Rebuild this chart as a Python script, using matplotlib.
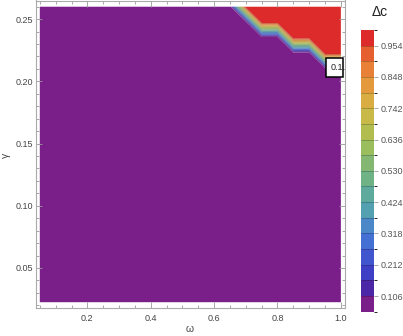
import numpy as np
import matplotlib
matplotlib.use("Agg")
import matplotlib.pyplot as plt
import matplotlib.tri as mtri
from matplotlib.colors import ListedColormap, BoundaryNorm
from matplotlib.cm import ScalarMappable
from matplotlib.patches import Rectangle

plt.rcParams['font.family'] = ['Liberation Sans', 'DejaVu Sans']

# grid of the computation
omega = np.round(np.arange(0.05, 1.0001, 0.05), 3)
gamma = np.round(np.arange(0.0225, 0.26001, 0.0125), 4)

# columns where delta c jumps to 1, and the gamma it starts at
onset_omega = [0.70, 0.75, 0.80, 0.85, 0.90, 0.95, 1.00]
onset_gamma = [0.26, 0.2475, 0.2475, 0.235, 0.235, 0.2225, 0.2225]

# contour levels / colour bands (Mathematica "Rainbow")
levels = [0.053 * k for k in range(1, 20)]
cbar_ticks = [0.106, 0.212, 0.318, 0.424, 0.530, 0.636, 0.742, 0.848, 0.954]
band_colors = ['#7a1e89', '#4b26a6', '#3f3fc5', '#4155cf', '#4470d3', '#4a88c7',
               '#52a0b0', '#5eaa9c', '#6eb286', '#84b872', '#9abd5e', '#b2bd50',
               '#c8b948', '#daad42', '#e4993d', '#e88038', '#e65f31', '#dc2b2a']

nx, ny = len(omega), len(gamma)
Z = np.zeros((ny, nx))
for w, g in zip(onset_omega, onset_gamma):
    i = int(np.argmin(np.abs(omega - w)))
    Z[gamma >= g - 1e-9, i] = 1.0

X, Y = np.meshgrid(omega, gamma)
tris = []
for j in range(ny - 1):
    for i in range(nx - 1):
        bl = j * nx + i
        br = bl + 1
        tl = bl + nx
        tr = tl + 1
        tris.append([tl, bl, br])
        tris.append([tl, tr, br])
tri = mtri.Triangulation(X.ravel(), Y.ravel(), np.array(tris))

W, H = 403, 336
fig = plt.figure(figsize=(W / 100, H / 100), dpi=100)
ax = fig.add_axes([35.7 / W, (H - 308.3) / H, (345 - 35.7) / W, (308.3 - 0.5) / H])

fill_levels = [-0.01] + levels
fill_colors = [band_colors[0]] + band_colors
ax.tricontourf(tri, Z.ravel(), levels=fill_levels, colors=fill_colors, antialiased=True)
ax.tricontour(tri, Z.ravel(), levels=levels[1:-1], colors='k', linewidths=0.3, alpha=0.15)

ax.set_xlim(0.037, 1.013)
ax.set_ylim(0.0176, 0.265)
ax.set_xticks([0.2, 0.4, 0.6, 0.8, 1.0])
ax.set_xticklabels(['0.2', '0.4', '0.6', '0.8', '1.0'])
ax.set_xticks(np.arange(0.05, 1.01, 0.05), minor=True)
ax.set_yticks([0.05, 0.10, 0.15, 0.20, 0.25])
ax.set_yticklabels(['0.05', '0.10', '0.15', '0.20', '0.25'])
ax.set_yticks(np.arange(0.02, 0.2651, 0.01), minor=True)
ax.tick_params(which='both', direction='in', top=True, right=True, colors='#999999',
               labelcolor='#444444', labelsize=6.5, width=0.6)
ax.tick_params(which='major', length=4)
ax.tick_params(which='minor', length=2.2)
ax.tick_params(axis='x', pad=4)
ax.tick_params(axis='y', pad=2)
for s in ax.spines.values():
    s.set_color('#aaaaaa')
    s.set_linewidth(0.8)

# contour label box at the right edge (label is cut off by its box)
ax.add_patch(Rectangle((0.954, 0.2034), 0.0536, 0.0153, facecolor='white',
                       edgecolor='black', linewidth=1.1, zorder=5))
ax.text(0.967, 0.2108, '0.1', fontsize=6.5, color='#222222', va='center',
        ha='left', zorder=6)

fig.text(190 / W, 1 - 329 / H, 'ω', fontsize=7.5, color='#444444', ha='center', va='center')
fig.text(6 / W, 1 - 155 / H, 'γ', fontsize=7.5, color='#444444', ha='center', va='center',
         rotation=90)

# colour bar
cax = fig.add_axes([361 / W, (H - 311.7) / H, 13 / W, (311.7 - 30) / H])
sm = ScalarMappable(norm=BoundaryNorm(levels, len(band_colors)), cmap=ListedColormap(band_colors))
cb = fig.colorbar(sm, cax=cax, ticks=cbar_ticks, spacing='proportional')
cb.outline.set_visible(False)
cb.ax.set_yticklabels(['%.3f' % t for t in cbar_ticks])
cb.ax.tick_params(direction='out', length=3, width=0.6, colors='#999999',
                  labelcolor='#555555', labelsize=6.5, pad=2)
cb.ax.hlines(levels[1:-1], 0, 1, transform=cb.ax.get_yaxis_transform(),
             colors='k', linewidths=0.5, alpha=0.3)
fig.text(379.5 / W, 1 - 12.5 / H, 'Δc', fontsize=10, color='#222222', ha='center', va='center')

fig.savefig('out.png', dpi=100)
